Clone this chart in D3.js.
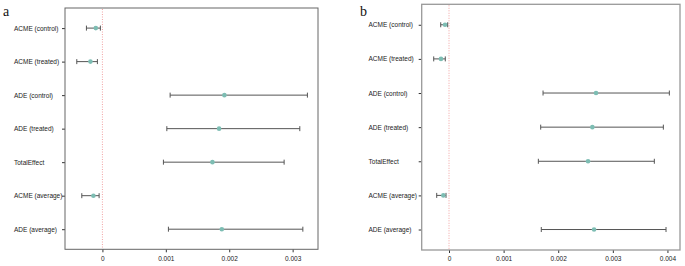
<!DOCTYPE html>
<html>
<head>
<meta charset="utf-8">
<script src="https://cdn.jsdelivr.net/npm/d3@7"></script>
<style>
  body { margin: 0; background: #fff; }
  svg { display: block; font-family: "Liberation Sans", Arial, sans-serif; }
</style>
</head>
<body>
<svg></svg>
<script>
// effect labels, top to bottom
const categories = ['ACME (control)', 'ACME (treated)', 'ADE (control)', 'ADE (treated)',
                    'TotalEffect', 'ACME (average)', 'ADE (average)']

// panel a : estimate + 95% CI
const estA = [-0.000104, -0.000189, 0.001924, 0.00184, 0.001735, -0.000142, 0.001883]
const loA  = [-0.000252, -0.000404, 0.001068, 0.001016, 0.000962, -0.000325, 0.001041]
const hiA  = [-0.000032, -0.000079, 0.003233, 0.003113, 0.002866, -0.000052, 0.003161]
const ticksA = [0, 0.001, 0.002, 0.003]

// panel b
const estB = [-0.000073, -0.000147, 0.002692, 0.002625, 0.002546, -0.000104, 0.002656]
const loB  = [-0.000152, -0.00028, 0.001722, 0.001679, 0.001636, -0.000225, 0.00169]
const hiB  = [-0.000024, -0.000068, 0.004035, 0.003925, 0.00376, -0.000055, 0.003974]
const ticksB = [0, 0.001, 0.002, 0.003, 0.004]

const svgWidth = 685, svgHeight = 266

let svg = d3.select('svg')
    .attr('width', svgWidth)
    .attr('height', svgHeight)

function drawPanel(p) {
    const rows = categories.map((c, i) => ({cat: c, est: p.est[i], lo: p.lo[i], hi: p.hi[i]}))

    let x = d3.scaleLinear().domain(p.xDomain).range([p.left, p.right])
    let y = d3.scalePoint().domain(categories).range([p.top, p.bottom]).padding(0.6)

    let g = svg.append('g')

    // y axis (labels left aligned like the original)
    let yAxis = g.append('g')
        .attr('transform', `translate(${p.left},0)`)
        .call(d3.axisLeft(y).tickSize(3))
    yAxis.select('.domain').remove()
    yAxis.selectAll('line').attr('stroke', '#333')
    yAxis.selectAll('text')
        .attr('text-anchor', 'start')
        .attr('x', p.labelX - p.left)
        .attr('fill', '#222')
        .style('font-size', '6.5px')

    // x axis
    let xAxis = g.append('g')
        .attr('transform', `translate(0,${p.bottom})`)
        .call(d3.axisBottom(x).tickValues(p.ticks).tickSize(3).tickPadding(3.6)
            .tickFormat(d => d === 0 ? '0' : d3.format('.3f')(d)))
    xAxis.select('.domain').remove()
    xAxis.selectAll('line').attr('stroke', '#333')
    xAxis.selectAll('text').attr('fill', '#222').style('font-size', '6.5px')

    // zero reference line
    g.append('line')
        .attr('x1', x(0)).attr('x2', x(0))
        .attr('y1', p.top + 1).attr('y2', p.bottom)
        .attr('stroke', '#ee8a8a')
        .attr('stroke-width', 0.8)
        .attr('stroke-dasharray', '1,1.5')

    // error bars
    let bars = g.selectAll('.bar').data(rows).enter().append('g').attr('class', 'bar')
    bars.append('line')
        .attr('x1', d => x(d.lo)).attr('x2', d => x(d.hi))
        .attr('y1', d => y(d.cat)).attr('y2', d => y(d.cat))
        .attr('stroke', '#555').attr('stroke-width', 1)
    bars.append('line')
        .attr('x1', d => x(d.lo)).attr('x2', d => x(d.lo))
        .attr('y1', d => y(d.cat) - 2.5).attr('y2', d => y(d.cat) + 2.5)
        .attr('stroke', '#555').attr('stroke-width', 1)
    bars.append('line')
        .attr('x1', d => x(d.hi)).attr('x2', d => x(d.hi))
        .attr('y1', d => y(d.cat) - 2.5).attr('y2', d => y(d.cat) + 2.5)
        .attr('stroke', '#555').attr('stroke-width', 1)
    bars.append('circle')
        .attr('cx', d => x(d.est)).attr('cy', d => y(d.cat))
        .attr('r', 2.3)
        .attr('fill', '#7dbdb3')

    // panel border
    g.append('rect')
        .attr('x', p.left).attr('y', p.top)
        .attr('width', p.right - p.left).attr('height', p.bottom - p.top)
        .attr('fill', 'none')
        .attr('stroke', p.border)
        .attr('stroke-width', p.borderWidth)

    // panel letter
    svg.append('text')
        .attr('x', p.letterX).attr('y', 16)
        .style('font-family', '"Liberation Serif", "Times New Roman", serif')
        .style('font-size', '14px')
        .attr('fill', '#111')
        .text(p.letter)
}

drawPanel({letter: 'a', letterX: 3, est: estA, lo: loA, hi: hiA, ticks: ticksA,
    xDomain: [-0.00059, 0.0034], left: 65, right: 318, top: 8, bottom: 249.3,
    labelX: 14, border: '#666', borderWidth: 1})

drawPanel({letter: 'b', letterX: 360, est: estB, lo: loB, hi: hiB, ticks: ticksB,
    xDomain: [-0.0005, 0.00423], left: 421.7, right: 680, top: 4.3, bottom: 250,
    labelX: 368.5, border: '#999', borderWidth: 1.3})
</script>
</body>
</html>
